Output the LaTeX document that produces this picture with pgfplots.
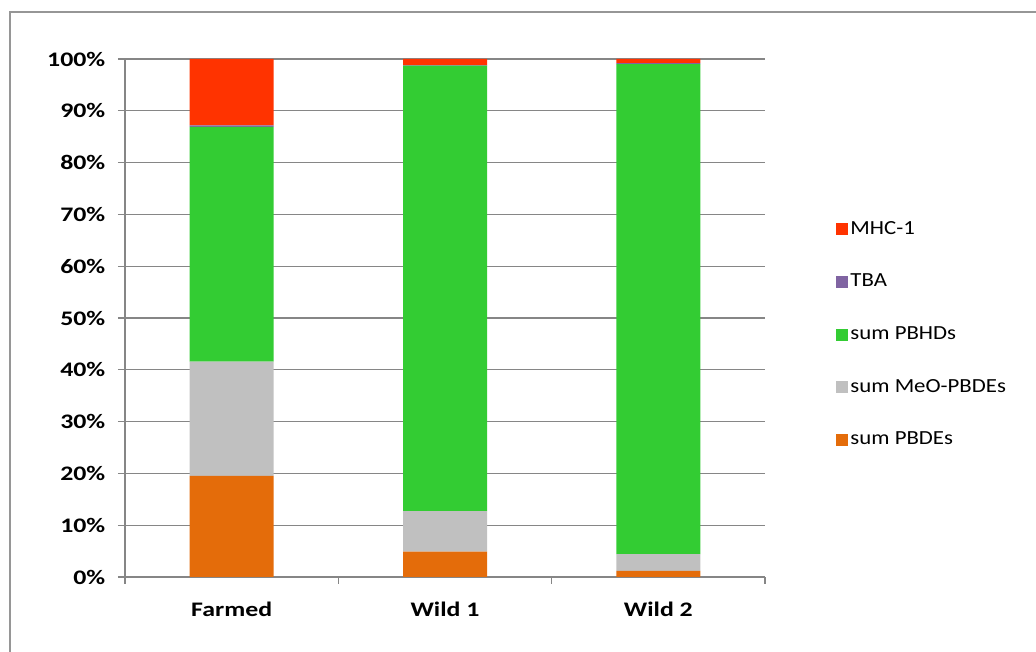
\documentclass[border=0pt]{standalone}
\usepackage{fontspec}
\setmainfont{Carlito}
\usepackage{graphicx}
\usepackage{pgfplots}
\pgfplotsset{compat=1.18}

\definecolor{cMHC}{RGB}{255,51,0}
\definecolor{cTBA}{RGB}{128,100,162}
\definecolor{cPBHD}{RGB}{51,204,51}
\definecolor{cMeO}{RGB}{192,192,192}
\definecolor{cPBDE}{RGB}{228,108,10}
\definecolor{axisgray}{RGB}{134,134,134}
\definecolor{framegray}{RGB}{150,150,150}

% slightly widened text, as in the original rendering
\newcommand{\wide}[1]{\scalebox{1.25}[1]{#1}}
\newcommand{\lwide}[1]{\scalebox{1.14}[1]{#1}}

\begin{document}
\begin{tikzpicture}[x=0.75pt,y=0.75pt]
\useasboundingbox (0,0) rectangle (1036,652);
% chart area frame (left and top edges)
\draw[framegray, line width=1.2pt] (10,0) -- (10,640) -- (1036,640);
\begin{axis}[
  at={(93.75pt,56.25pt)}, anchor=south west,
  scale only axis, width=480pt, height=388.5pt,
  ybar stacked, bar width=63pt,
  xmin=0.5, xmax=3.5, ymin=0, ymax=100,
  axis x line*=bottom, axis y line*=left,
  axis line style={axisgray, line width=0.9pt},
  xtick={1,2,3}, xticklabels={\wide{Farmed}, \wide{Wild 1}, \wide{Wild 2}},
  minor xtick={0.5,1.5,2.5,3.5},
  ytick={0,10,...,100},
  yticklabel={\wide{\pgfmathprintnumber{\tick}\%}},
  /pgf/number format/assume math mode=true,
  tick align=outside,
  major tick length=5.25pt, minor tick length=5.25pt,
  major x tick style={draw=none},
  minor x tick style={axisgray, line width=0.9pt},
  major y tick style={axisgray, line width=0.9pt},
  ymajorgrids, grid style={axisgray, line width=0.9pt},
  ticklabel style={font=\bfseries\fontsize{15.5}{18}\selectfont},
  yticklabel style={xshift=-6pt},
  xticklabel style={yshift=-10pt},
  reverse legend,
  legend cell align=left,
  legend image code/.code={\fill[#1] (0pt,-4.5pt) rectangle (9pt,4.5pt);},
  legend style={at={(1.104,0.468)}, anchor=west, draw=none, fill=none,
    font=\fontsize{15}{18}\selectfont, row sep=22pt,
    nodes={inner sep=2pt, text height=10.5pt, text depth=3pt}},
]
\addplot[fill=cPBDE, draw=none] coordinates {(1,19.5) (2,4.9) (3,1.2)};
\addlegendentry{\lwide{sum PBDEs}}
\addplot[fill=cMeO, draw=none] coordinates {(1,22.1) (2,7.8) (3,3.2)};
\addlegendentry{\lwide{sum MeO-PBDEs}}
\addplot[fill=cPBHD, draw=none] coordinates {(1,45.3) (2,86.0) (3,94.6)};
\addlegendentry{\lwide{sum PBHDs}}
\addplot[fill=cTBA, draw=none] coordinates {(1,0.3) (2,0.1) (3,0.2)};
\addlegendentry{\lwide{TBA}}
\addplot[fill=cMHC, draw=none] coordinates {(1,12.8) (2,1.2) (3,0.8)};
\addlegendentry{\lwide{MHC-1}}
\end{axis}
\end{tikzpicture}
\end{document}
